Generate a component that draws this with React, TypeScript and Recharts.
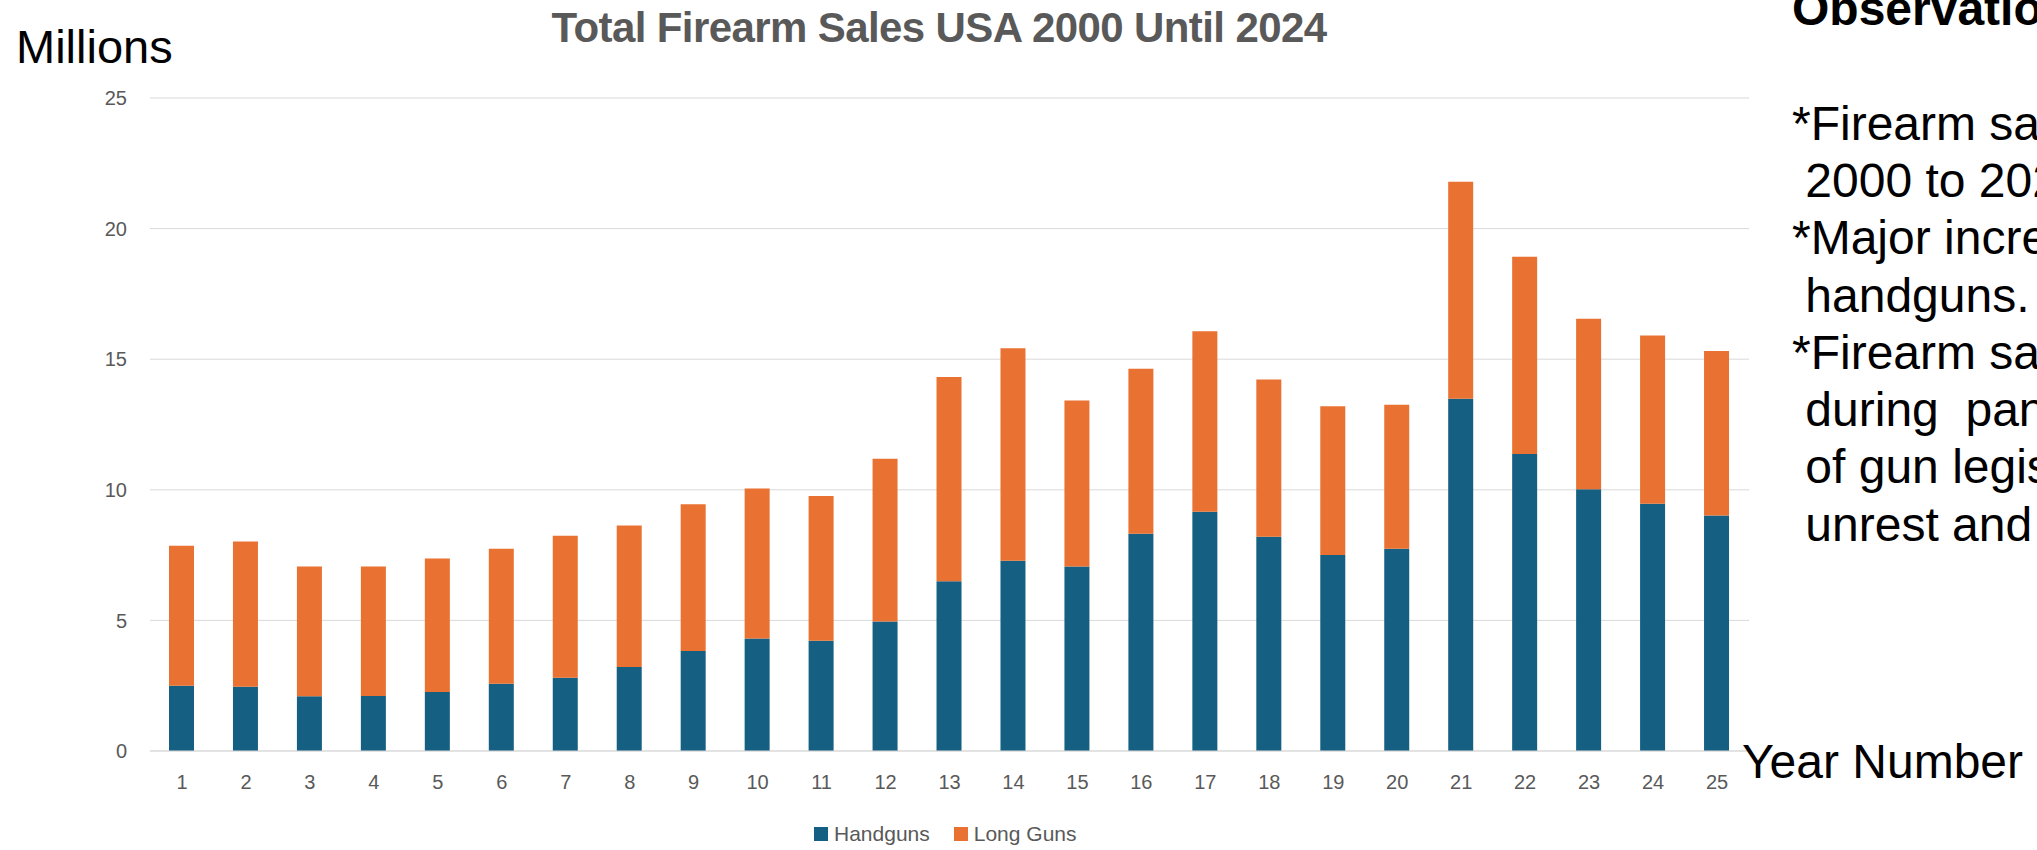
import { BarChart, Bar, XAxis, YAxis, CartesianGrid, Legend } from "recharts";

// year number 1 = 2000 ... 25 = 2024, values in millions
const years = [1, 2, 3, 4, 5, 6, 7, 8, 9, 10, 11, 12, 13, 14, 15, 16, 17, 18, 19, 20, 21, 22, 23, 24, 25];
const handguns = [2.5, 2.46, 2.1, 2.11, 2.26, 2.57, 2.8, 3.22, 3.83, 4.31, 4.22, 4.96, 6.5, 7.28, 7.06, 8.32, 9.16, 8.2, 7.5, 7.74, 13.49, 11.37, 10.02, 9.47, 9.02];
const longGuns = [5.36, 5.56, 4.96, 4.95, 5.11, 5.17, 5.44, 5.41, 5.62, 5.74, 5.54, 6.23, 7.82, 8.14, 6.36, 6.31, 6.91, 6.02, 5.7, 5.52, 8.3, 7.55, 6.53, 6.44, 6.29];
const yTicks = [0, 5, 10, 15, 20, 25];

const notes = [
  { text: "Observatio", bold: true },
  { text: "", bold: false },
  { text: "*Firearm sa", bold: false },
  { text: " 2000 to 202", bold: false },
  { text: "*Major incre", bold: false },
  { text: " handguns.", bold: false },
  { text: "*Firearm sa", bold: false },
  { text: " during  pan", bold: false },
  { text: " of gun legis", bold: false },
  { text: " unrest and", bold: false },
];

const data = years.map((y, i) => ({ year: y, handguns: handguns[i], longGuns: longGuns[i] }));

const font = "'Liberation Sans', Arial, sans-serif";
const gray = "#595959";

function LegendContent(props: any) {
  const items = props.payload || [];
  return (
    <div style={{ display: "flex", alignItems: "center", fontFamily: font, fontSize: 21, color: gray }}>
      {items.map((it: any, i: number) => (
        <div key={i} style={{ display: "flex", alignItems: "center", marginRight: 24 }}>
          <div style={{ width: 14, height: 14, background: it.color, marginRight: 6 }} />
          <span>{it.value}</span>
        </div>
      ))}
    </div>
  );
}

export default function App() {
  return (
    <div style={{ position: "fixed", left: 0, top: 0, width: 2037, height: 850, overflow: "hidden", background: "#fff" }}>
      <BarChart
        width={2037}
        height={850}
        data={data}
        margin={{ top: 98, right: 288, bottom: 59, left: 0 }}
        barSize={25}
      >
        <CartesianGrid vertical={false} stroke="#d9d9d9" />
        <XAxis
          dataKey="year"
          height={40}
          tickSize={0}
          tickMargin={24}
          axisLine={{ stroke: "#d9d9d9" }}
          tick={{ fill: gray, fontSize: 20, fontFamily: font }}
          interval={0}
        />
        <YAxis
          width={150}
          domain={[0, 25]}
          ticks={yTicks}
          tickSize={0}
          tickMargin={23}
          axisLine={false}
          tick={{ fill: gray, fontSize: 20, fontFamily: font }}
        />
        <Legend
          verticalAlign="middle"
          align="center"
          content={<LegendContent />}
          wrapperStyle={{ left: 814, top: 822, width: "auto", height: 24 }}
        />
        <Bar dataKey="handguns" name="Handguns" stackId="a" fill="#156082" isAnimationActive={false} />
        <Bar dataKey="longGuns" name="Long Guns" stackId="a" fill="#e97132" isAnimationActive={false} />
      </BarChart>
      <svg width={2037} height={850} style={{ position: "absolute", left: 0, top: 0, pointerEvents: "none" }}>
        <text x={939} y={42} textAnchor="middle" fontFamily={font} fontWeight="bold" fontSize={42} letterSpacing={-0.6} fill={gray}>
          Total Firearm Sales USA 2000 Until 2024
        </text>
        <text x={16} y={63} fontFamily={font} fontSize={47} fill="#000">
          Millions
        </text>
        <text x={1742} y={778} fontFamily={font} fontSize={48} fill="#000">
          Year Number
        </text>
        {notes.map((n, i) => (
          <text
            key={i}
            x={1792}
            y={25 + i * 57.3}
            fontFamily={font}
            fontSize={48}
            fontWeight={n.bold ? "bold" : "normal"}
            fill="#000"
            style={{ whiteSpace: "pre" }}
          >
            {n.text}
          </text>
        ))}
      </svg>
    </div>
  );
}
